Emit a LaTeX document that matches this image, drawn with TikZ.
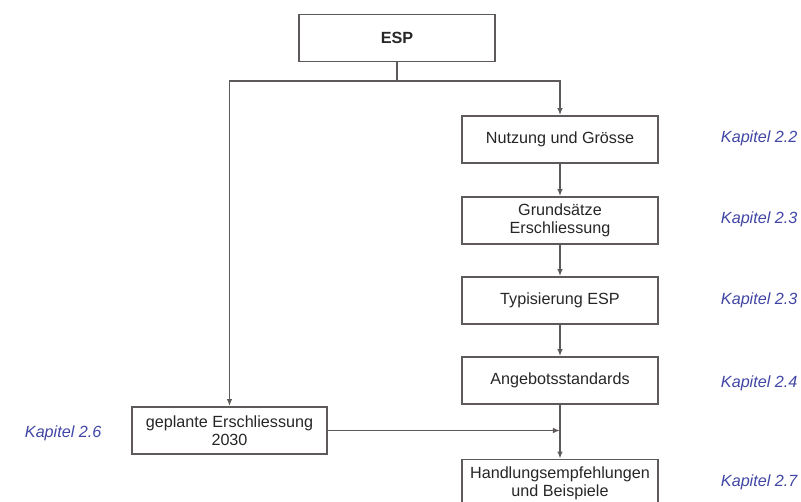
\documentclass[tikz,border=0pt]{standalone}
\usepackage{fontspec}
\setmainfont{Liberation Sans}
\usepackage{xcolor}
\usetikzlibrary{arrows.meta}

\definecolor{linegray}{RGB}{95,90,90}
\definecolor{kapblue}{RGB}{65,70,165}

\newlength{\pxu}
\setlength{\pxu}{0.025cm}

\tikzset{
  box/.style={draw=linegray, line width=1.3pt, minimum width=196\pxu, minimum height=47\pxu,
    inner sep=1pt, align=center, font=\fontsize{11.5}{13}\selectfont, text=black!85},
  kap/.style={anchor=west, text=kapblue, font=\fontsize{11.5}{13}\selectfont\itshape},
  conn/.style={draw=linegray, line width=1.2pt},
  arr/.style={conn, -{Latex[length=5pt,width=4pt]}}
}

\begin{document}
\begin{tikzpicture}[x=0.025cm, y=-0.025cm]
\useasboundingbox (0,0) rectangle (801,501);

% Top box
\node[box, font=\fontsize{11.5}{13}\selectfont\bfseries] (esp) at (397,38) {ESP};

% Right column
\foreach \n/\y/\t in {nutz/139.5/{Nutzung und Grösse},
                      grund/220.5/{Grundsätze\\Erschliessung},
                      typ/300.5/{Typisierung ESP},
                      ang/380.5/{Angebotsstandards},
                      handl/483/{Handlungsempfehlungen\\und Beispiele}} {
    \node[box] (\n) at (560,\y) {\t};
}

% Left box
\node[box, minimum width=195\pxu] (geplant) at (229.5,430.5) {geplante Erschliessung\\2030};

% Chapter labels
\node[kap] (k22) at (716,138) {Kapitel 2.2};
\node[kap] (k23a) at (716,219) {Kapitel 2.3};
\node[kap] (k23b) at (716,300) {Kapitel 2.3};
\node[kap] (k24) at (716,383) {Kapitel 2.4};
\node[kap] (k27) at (716,482) {Kapitel 2.7};
\node[kap] (k26) at (20,433) {Kapitel 2.6};

% Connectors
\coordinate (split) at (397,81);
\draw[conn] (esp) -- (split);
\draw[arr] (split) -| (nutz);
\draw[arr] (split) -| (geplant);
\draw[arr] (nutz) -- (grund);
\draw[arr] (grund) -- (typ);
\draw[arr] (typ) -- (ang);
\draw[arr] (ang) -- (handl);
\coordinate (merge) at (ang.south |- geplant.east);
\draw[arr] (geplant) -- (merge);
\end{tikzpicture}
\end{document}
